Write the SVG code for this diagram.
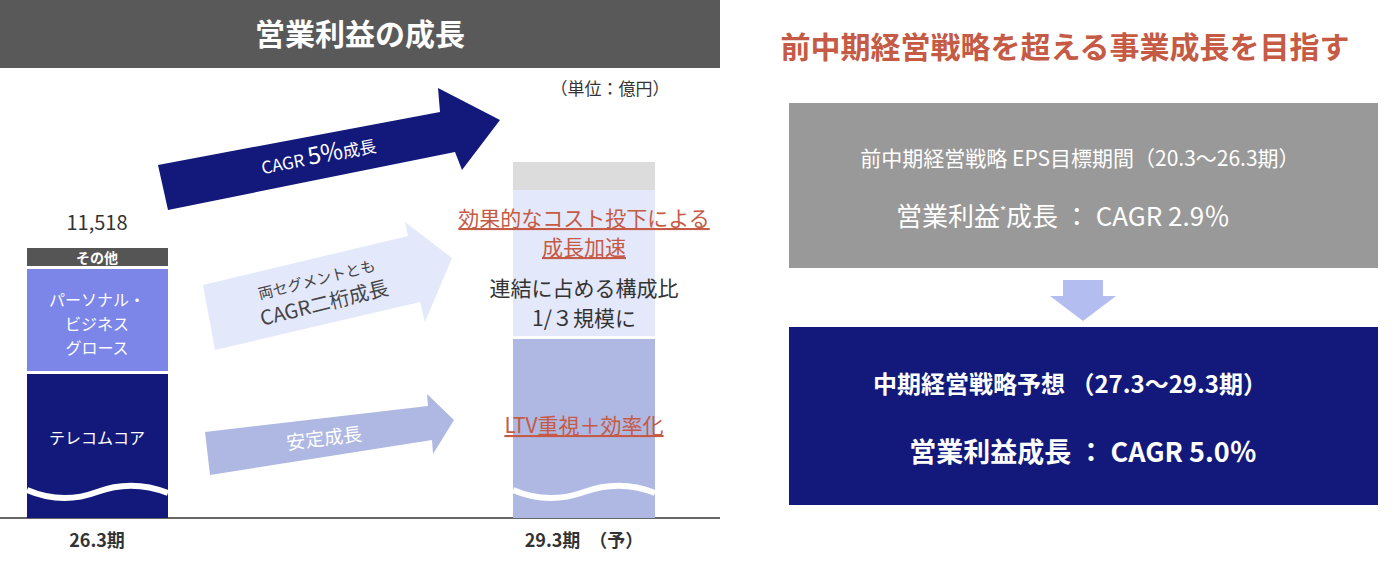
<svg xmlns="http://www.w3.org/2000/svg" width="1400" height="568" viewBox="0 0 1400 568">
<style>
text{font-family:"Noto Sans CJK JP","Noto Sans",sans-serif}
.w{fill:#fff}.d{fill:#333}.r{fill:#c55a45;text-decoration:underline}
</style>
<rect width="1400" height="568" fill="#fff"/>
<g id="title"><rect x="0" y="0" width="720" height="68" fill="#595959"/><text x="360" y="45" text-anchor="middle" font-size="30" font-weight="bold" class="w">営業利益の成長</text></g>
<text x="610" y="95" text-anchor="middle" font-size="17" class="d">（単位：億円）</text>
<line x1="0" y1="518" x2="720" y2="518" stroke="#666" stroke-width="2"/>
<g id="bar1">
<rect x="27" y="248" width="141" height="18" fill="#555"/>
<text x="97" y="263" text-anchor="middle" font-size="14" font-weight="bold" class="w">その他</text>
<rect x="27" y="269" width="141" height="102" fill="#7b86e8"/>
<text x="97" y="306" text-anchor="middle" font-size="16" class="w">パーソナル・</text>
<text x="97" y="330" text-anchor="middle" font-size="16" class="w">ビジネス</text>
<text x="97" y="354" text-anchor="middle" font-size="16" class="w">グロース</text>
<rect x="27" y="374" width="141" height="144" fill="#12197a"/>
<text x="97" y="444" text-anchor="middle" font-size="16" class="w">テレコムコア</text>
<path d="M27 490 Q62 505 97 492 T168 493" stroke="#fff" stroke-width="6" fill="none"/>
<text x="97" y="230" text-anchor="middle" font-size="20" class="d">11,518</text>
<text x="97" y="547" text-anchor="middle" font-size="18" font-weight="bold" class="d">26.3期</text>
</g>
<g id="bar2">
<rect x="513" y="162" width="142" height="28" fill="#dcdcdc"/>
<rect x="513" y="190" width="142" height="146" fill="#e4e8fb"/>
<rect x="513" y="339" width="142" height="179" fill="#aeb8e2"/>
<path d="M513 490 Q548 505 584 492 T655 493" stroke="#fff" stroke-width="6" fill="none"/>
<text x="584" y="226" text-anchor="middle" font-size="21" class="r">効果的なコスト投下による</text>
<text x="584" y="255" text-anchor="middle" font-size="21" class="r">成長加速</text>
<text x="584" y="296" text-anchor="middle" font-size="21" class="d">連結に占める構成比</text>
<text x="584" y="326" text-anchor="middle" font-size="21" class="d">1/３規模に</text>
<text x="584" y="433" text-anchor="middle" font-size="21" class="r">LTV重視＋効率化</text>
<text x="584" y="547" text-anchor="middle" font-size="18" font-weight="bold" class="d">29.3期　（予）</text>
</g>
<g id="connectors">
<polygon points="158,165 440,112 438,88 500,120 462,170 455,152 168,210" fill="#12197a"/>
<polygon points="203,285 408,236 405,222 452,258 425,322 420,302 215,350" fill="#e4e8fb"/>
<polygon points="205,432 428,406 427,394 454,420 433,454 432,440 210,475" fill="#aeb8e2"/>
<text transform="translate(320,163) rotate(-11)" text-anchor="middle" font-size="17" class="w">CAGR <tspan font-size="24">5%</tspan>成長</text>
<text transform="translate(318,285) rotate(-14)" text-anchor="middle" font-size="15" fill="#444">両セグメントとも</text>
<text transform="translate(326,310) rotate(-14)" text-anchor="middle" font-size="20" fill="#444">CAGR二桁成長</text>
<text transform="translate(325,445) rotate(-7)" text-anchor="middle" font-size="19" class="w">安定成長</text>
<polygon points="1063,280 1103,280 1103,296 1116,296 1083,321 1050,296 1063,296" fill="#b4bdf0"/>
</g>
<text x="1065" y="58" text-anchor="middle" font-size="30" font-weight="bold" fill="#c55a45">前中期経営戦略を超える事業成長を目指す</text>
<g id="box1"><rect x="789" y="103" width="589" height="165" fill="#999"/>
<text x="1080" y="166" text-anchor="middle" font-size="21" class="w">前中期経営戦略 EPS目標期間（20.3～26.3期）</text>
<text x="1063" y="226" text-anchor="middle" font-size="26" class="w">営業利益<tspan font-size="13" dy="-10">*</tspan><tspan dy="10">成長 ： CAGR 2.9％</tspan></text></g>
<g id="box2"><rect x="789" y="327" width="589" height="178" fill="#12197a"/>
<text x="1070" y="393" text-anchor="middle" font-size="24" font-weight="bold" class="w">中期経営戦略予想 （27.3～29.3期）</text>
<text x="1083" y="462" text-anchor="middle" font-size="27" font-weight="bold" class="w">営業利益成長 ： CAGR 5.0％</text></g>
</svg>
